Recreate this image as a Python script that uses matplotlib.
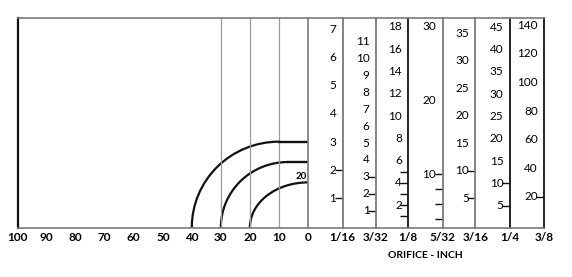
import numpy as np
import matplotlib.pyplot as plt
from matplotlib.patches import Arc

plt.rcParams['font.family'] = ['Lato', 'DejaVu Sans']

# left scale
left_ticks = [100, 90, 80, 70, 60, 50, 40, 30, 20, 10, 0]
grid_x = [10, 20, 30]
# curves: arc centre, bottom start, top level
arc_centre = [10, 7, 0]
arc_start = [40, 30, 20]
arc_top = [29.5, 22.5, 15.5]

# orifice columns
orifice = ['1/16', '3/32', '1/8', '5/32', '3/16', '1/4', '3/8']
col_values = [
    [1, 2, 3, 4, 5, 6, 7],
    [1, 2, 3, 4, 5, 6, 7, 8, 9, 10, 11],
    [2, 4, 6, 8, 10, 12, 14, 16, 18],
    [10, 20, 30],
    [5, 10, 15, 20, 25, 30, 35],
    [5, 10, 15, 20, 25, 30, 35, 40, 45],
    [20, 40, 60, 80, 100, 120, 140],
]
col_ticks = [[1, 2], [1, 2, 3], [1, 2, 3, 4, 5], [4, 6, 8, 10], [5, 10], [5, 10], [20]]
col_ylim = [(-0.03, 7.4), (0, 12.4), (0, 18.8), (2.8, 31.1),
            (-0.27, 37.8), (0.1, 47.1), (-1.4, 145.1)]

W, H = 572, 277
fig = plt.figure(figsize=(W / 100, H / 100), dpi=100)

def box(x0, x1, y0=18, y1=227.5):
    return [x0 / W, 1 - y1 / H, (x1 - x0) / W, (y1 - y0) / H]

GRAY = '#7a7a7a'
BLACK = '#111111'
tick_font = dict(fontsize=8.5, fontweight='bold')

ax = fig.add_axes(box(17.5, 308))
ax.set_xlim(100, 0)
ax.set_ylim(0, 72)
ax.set_yticks([])
ax.set_xticks(left_ticks)
ax.set_xticklabels([str(t) for t in left_ticks], **tick_font)
ax.tick_params(axis='x', length=0, pad=3.5)
ax.spines['left'].set_color(BLACK)
ax.spines['left'].set_linewidth(1.6)
for s in ['top', 'bottom', 'right']:
    ax.spines[s].set_color(GRAY)
    ax.spines[s].set_linewidth(1.2)
for gx in grid_x:
    ax.axvline(gx, color='#9a9a9a', lw=0.9)

for c, s, t in zip(arc_centre, arc_start, arc_top):
    a = s - c
    ax.add_patch(Arc((c, 0), 2 * a, 2 * t, theta1=0, theta2=90,
                     color=BLACK, lw=1.6))
    if c > 0:
        ax.plot([c + 0.3, 0], [t, t], color=BLACK, lw=1.7, solid_capstyle='butt')
ax.text(0.4, arc_top[2] + 0.6, '20', ha='right', va='bottom',
        fontsize=7, fontweight='bold')

bounds = [308, 342.7, 376, 408.3, 442.7, 475.3, 510, 544.3]
right_col = [GRAY, GRAY, BLACK, GRAY, GRAY, BLACK, BLACK]
for i in range(7):
    cax = fig.add_axes(box(bounds[i], bounds[i + 1]))
    cax.set_xlim(0, 1)
    cax.set_ylim(*col_ylim[i])
    cax.patch.set_alpha(0)
    cax.spines['left'].set_visible(False)
    cax.spines['right'].set_color(right_col[i])
    cax.spines['right'].set_linewidth(1.3)
    for s in ['top', 'bottom']:
        cax.spines[s].set_color(GRAY)
        cax.spines[s].set_linewidth(1.2)
    cax.set_xticks([1])
    cax.set_xticklabels([orifice[i]], **tick_font)
    cax.tick_params(axis='x', length=0, pad=3.5)
    cax.yaxis.tick_right()
    cax.set_yticks(col_ticks[i])
    cax.tick_params(axis='y', direction='in', length=6, width=1,
                    color=BLACK, labelright=False)
    for v in col_values[i]:
        cax.annotate(str(v), xy=(1, v), xycoords=('axes fraction', 'data'),
                     xytext=(-6.5, 0), textcoords='offset pixels',
                     ha='right', va='center', fontsize=8.5)

fig.text(425.5 / W, 1 - 255 / H, 'ORIFICE - INCH', ha='center', va='center',
         fontsize=7.5, fontweight='bold')

fig.savefig('out.png', dpi=100)
